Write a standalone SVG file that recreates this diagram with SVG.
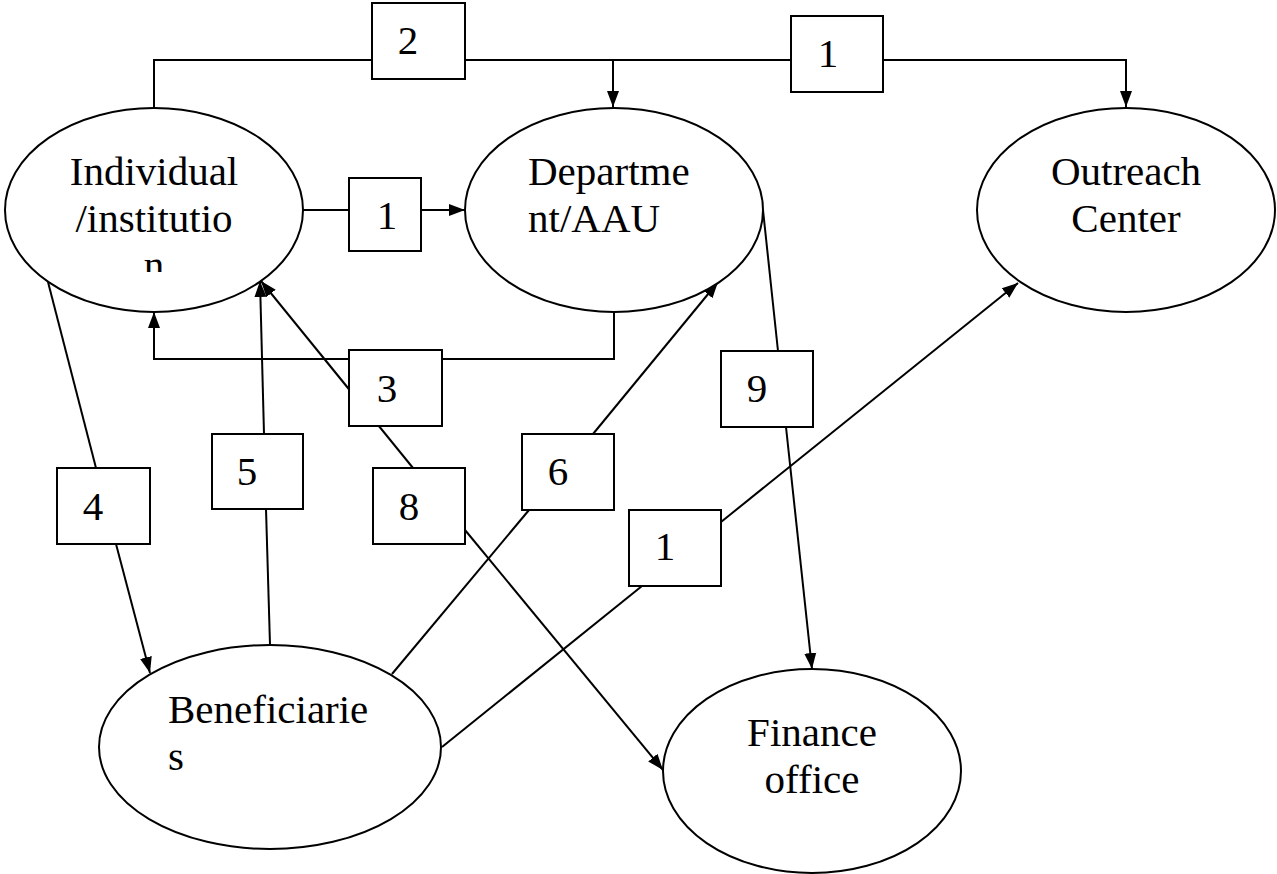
<svg xmlns="http://www.w3.org/2000/svg" width="1277" height="874" viewBox="0 0 1277 874">
  <style>
    .node { fill: #fff; stroke: #000; stroke-width: 2; }
    .lbl { fill: #fff; stroke: #000; stroke-width: 2; }
    .edge { fill: none; stroke: #000; stroke-width: 2; }
    .arr { marker-end: url(#head); }
    .t { font-family: 'Liberation Serif', 'Times New Roman', 'DejaVu Serif', serif; font-size: 41px; fill: #000; }
    .c { text-anchor: middle; }
  </style>
  <defs>
    <marker id="head" markerUnits="userSpaceOnUse" markerWidth="18" markerHeight="16" viewBox="0 0 18 16" refX="16" refY="8" orient="auto">
      <path d="M0,2 L16,8 L0,14 Z" fill="#000"/>
    </marker>
    <clipPath id="clipInd">
      <rect x="0" y="0" width="320" height="272"/>
    </clipPath>
  </defs>

  <!-- connectors -->
  <g id="connectors">
    <!-- top bus: Individual -> 2 -> Department / 1 -> Outreach -->
    <polyline class="edge" points="154,107 154,60 372,60"/>
    <polyline class="edge" points="465,60 791,60"/>
    <polyline class="edge arr" points="613,60 613,107"/>
    <polyline class="edge arr" points="883,60 1126,60 1126,107"/>
    <!-- Individual -> 1 -> Department -->
    <line class="edge" x1="303" y1="210" x2="349" y2="210"/>
    <line class="edge arr" x1="421" y1="210" x2="465" y2="210"/>
    <!-- Department -> 3 -> Individual -->
    <polyline class="edge" points="614,312 614,359 442,359"/>
    <polyline class="edge arr" points="349,359 154,359 154,312"/>
    <!-- Individual -> 4 -> Beneficiaries -->
    <line class="edge" x1="48" y1="282" x2="96" y2="468"/>
    <line class="edge arr" x1="116" y1="544" x2="150" y2="673"/>
    <!-- Beneficiaries -> 5 -> Individual -->
    <line class="edge" x1="270" y1="645" x2="266" y2="509"/>
    <line class="edge arr" x1="264" y1="434" x2="260" y2="281"/>
    <!-- 8: Individual <- 8 -> Finance -->
    <line class="edge arr" x1="413" y1="468" x2="261" y2="281"/>
    <line class="edge arr" x1="465" y1="530" x2="663" y2="770"/>
    <!-- Beneficiaries -> 6 -> Department -->
    <line class="edge" x1="392" y1="674" x2="529" y2="510"/>
    <line class="edge arr" x1="593" y1="434" x2="718" y2="282"/>
    <!-- Department -> 9 -> Finance -->
    <line class="edge" x1="763" y1="210" x2="778" y2="351"/>
    <line class="edge arr" x1="786" y1="427" x2="812" y2="669"/>
    <!-- Beneficiaries -> 1 -> Outreach -->
    <line class="edge" x1="442" y1="747" x2="642" y2="586"/>
    <line class="edge arr" x1="721" y1="522" x2="1018" y2="283"/>
  </g>

  <!-- flow labels -->
  <g id="label-2"><rect class="lbl" x="372" y="3" width="93" height="76"/><text class="t c" x="408" y="54">2</text></g>
  <g id="label-1-top"><rect class="lbl" x="791" y="16" width="92" height="76"/><text class="t c" x="828" y="67">1</text></g>
  <g id="label-1-mid"><rect class="lbl" x="349" y="178" width="72" height="73"/><text class="t c" x="387" y="229">1</text></g>
  <g id="label-3"><rect class="lbl" x="349" y="350" width="93" height="76"/><text class="t c" x="387" y="402">3</text></g>
  <g id="label-4"><rect class="lbl" x="57" y="468" width="93" height="76"/><text class="t c" x="93" y="520">4</text></g>
  <g id="label-5"><rect class="lbl" x="212" y="434" width="91" height="75"/><text class="t c" x="247" y="485">5</text></g>
  <g id="label-8"><rect class="lbl" x="373" y="468" width="92" height="76"/><text class="t c" x="409" y="520">8</text></g>
  <g id="label-6"><rect class="lbl" x="522" y="434" width="92" height="76"/><text class="t c" x="558" y="485">6</text></g>
  <g id="label-9"><rect class="lbl" x="721" y="351" width="92" height="76"/><text class="t c" x="757" y="402">9</text></g>
  <g id="label-1-low"><rect class="lbl" x="629" y="510" width="92" height="76"/><text class="t c" x="665" y="560">1</text></g>

  <!-- nodes -->
  <g id="individual">
    <ellipse class="node" cx="154" cy="210" rx="149" ry="102"/>
    <g clip-path="url(#clipInd)">
      <text class="t c" x="154" y="185">Individual</text>
      <text class="t c" x="154" y="232">/institutio</text>
      <text class="t c" x="154" y="279">n</text>
    </g>
  </g>
  <g id="department">
    <ellipse class="node" cx="614" cy="210" rx="149" ry="102"/>
    <text class="t" x="528" y="185">Departme</text>
    <text class="t" x="528" y="232">nt/AAU</text>
  </g>
  <g id="outreach">
    <ellipse class="node" cx="1126" cy="210" rx="149" ry="102"/>
    <text class="t c" x="1126" y="185">Outreach</text>
    <text class="t c" x="1126" y="232">Center</text>
  </g>
  <g id="beneficiaries">
    <ellipse class="node" cx="270" cy="747" rx="171" ry="102"/>
    <text class="t" x="168" y="723">Beneficiarie</text>
    <text class="t" x="168" y="770">s</text>
  </g>
  <g id="finance">
    <ellipse class="node" cx="812" cy="771" rx="149" ry="102"/>
    <text class="t c" x="812" y="746">Finance</text>
    <text class="t c" x="812" y="793">office</text>
  </g>
</svg>
